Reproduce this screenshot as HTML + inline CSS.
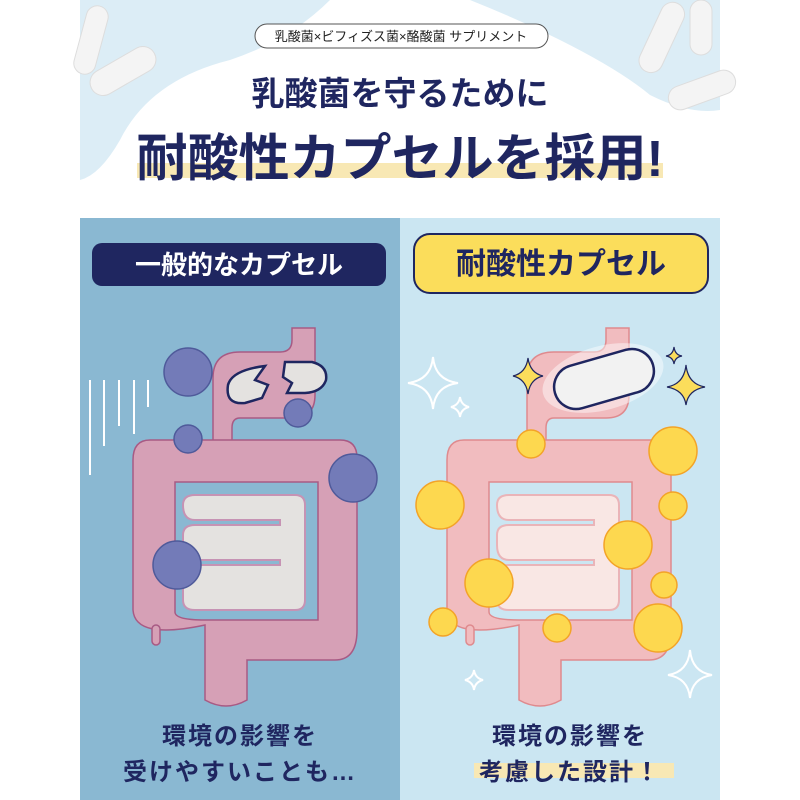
<!DOCTYPE html>
<html><head><meta charset="utf-8"><style>
body{margin:0;width:800px;height:800px;background:#fff;overflow:hidden}
svg{display:block}
text{font-family:"Liberation Sans","Noto Sans CJK JP",sans-serif}
</style></head><body>
<svg width="800" height="800" viewBox="0 0 800 800" xmlns="http://www.w3.org/2000/svg">
<rect x="80" y="0" width="640" height="210" fill="#fff"/>
<path d="M80,0 H330 Q290,40 230,60 Q150,80 120,140 Q100,175 80,180 Z" fill="#dcedf6"/>
<path d="M720,0 H470 Q520,20 560,40 Q620,70 650,95 Q690,115 720,110 Z" fill="#dcedf6"/>
<g fill="#f4f4f4" stroke="#ddd">
 <rect x="80" y="5" width="22" height="70" rx="11" transform="rotate(15 91 40)"/>
 <rect x="110" y="35" width="26" height="72" rx="13" transform="rotate(60 123 71)"/>
 <rect x="650" y="0" width="24" height="75" rx="12" transform="rotate(25 662 37)"/>
 <rect x="690" y="0" width="22" height="55" rx="11"/>
 <rect x="690" y="55" width="24" height="70" rx="12" transform="rotate(70 702 90)"/>
</g>
<rect x="255" y="24" width="293" height="24" rx="12" fill="#fff" stroke="#555" stroke-width="1"/>
<text x="401" y="41" font-size="13" text-anchor="middle" fill="#222">乳酸菌×ビフィズス菌×酪酸菌 サプリメント</text>
<text x="400" y="105" font-size="33" font-weight="700" text-anchor="middle" fill="#1f2660">乳酸菌を守るために</text>
<rect x="137" y="163" width="526" height="15" fill="#f8e8b4"/>
<text x="400" y="176" font-size="51" font-weight="700" text-anchor="middle" fill="#1f2660">耐酸性カプセルを採用!</text>

<rect x="80" y="218" width="320" height="582" fill="#8ab8d2"/>
<rect x="400" y="218" width="320" height="582" fill="#cbe6f2"/>

<rect x="92" y="243" width="294" height="43" rx="10" fill="#1f2660"/>
<text x="239" y="274" font-size="26" font-weight="700" text-anchor="middle" fill="#fff">一般的なカプセル</text>
<rect x="414" y="234" width="294" height="59" rx="16" fill="#fbdd5b" stroke="#1f2660" stroke-width="2"/>
<text x="561" y="274" font-size="30" font-weight="700" text-anchor="middle" fill="#1f2660">耐酸性カプセル</text>

<g fill="#d6a0b6" stroke="#a85a84" stroke-width="1.5">
 <path d="M292,328 H315 V395 Q315,418 292,418 H240 Q232,418 232,428 V445 H213 V378 Q213,352 240,352 H280 Q292,352 292,340 Z"/>
 <path fill-rule="evenodd" d="M150,440 H340 Q357,440 357,458 V630 Q357,660 335,660 H247 V700 Q226,712 205,700 V625 Q135,640 133,610 V460 Q133,440 150,440 Z M175,482 V612 Q175,620 205,620 H318 V482 Z"/>
 <rect x="152" y="625" width="8" height="20" rx="4"/>
</g>
<path fill="#e4e2e0" stroke="#c693b4" stroke-width="2" d="M195,495 H295 Q305,495 305,505 V600 Q305,610 295,610 H195 Q183,610 183,600 V575 Q183,565 195,565 H280 V560 H195 Q183,560 183,545 V535 Q183,525 195,525 H280 V520 H195 Q183,520 183,505 Q183,495 195,495 Z"/>
<g transform="translate(314,0)">
<g fill="#f1bcbf" stroke="#df8a8e" stroke-width="1.5">
 <path d="M292,328 H315 V395 Q315,418 292,418 H240 Q232,418 232,428 V445 H213 V378 Q213,352 240,352 H280 Q292,352 292,340 Z"/>
 <path fill-rule="evenodd" d="M150,440 H340 Q357,440 357,458 V630 Q357,660 335,660 H247 V700 Q226,712 205,700 V625 Q135,640 133,610 V460 Q133,440 150,440 Z M175,482 V612 Q175,620 205,620 H318 V482 Z"/>
 <rect x="152" y="625" width="8" height="20" rx="4"/>
</g>
<path fill="#f9e7e4" stroke="#eab4b8" stroke-width="2" d="M195,495 H295 Q305,495 305,505 V600 Q305,610 295,610 H195 Q183,610 183,600 V575 Q183,565 195,565 H280 V560 H195 Q183,560 183,545 V535 Q183,525 195,525 H280 V520 H195 Q183,520 183,505 Q183,495 195,495 Z"/>
</g>

<g stroke="#fff" stroke-width="2">
 <line x1="90" y1="380" x2="90" y2="475"/><line x1="104" y1="380" x2="104" y2="446"/>
 <line x1="119" y1="380" x2="119" y2="426"/><line x1="134" y1="380" x2="134" y2="434"/>
 <line x1="148" y1="380" x2="148" y2="407"/>
</g>
<path d="M265,366 L255,380 L268,385 L262,398 L245,403 Q225,405 228,385 Q232,370 265,366 Z" fill="#e4e2e0" stroke="#1f2660" stroke-width="2.5"/>
<path d="M285,362 H312 Q328,366 326,380 Q322,392 305,393 H287 L292,383 L283,377 Z" fill="#e4e2e0" stroke="#1f2660" stroke-width="2.5"/>
<g fill="#737bb8" stroke="#4f5a9a" stroke-width="1.5">
 <circle cx="188" cy="372" r="24"/><circle cx="298" cy="413" r="14"/><circle cx="188" cy="439" r="14"/>
 <circle cx="353" cy="478" r="24"/><circle cx="177" cy="565" r="24"/>
</g>

<ellipse cx="603" cy="378" rx="62" ry="32" fill="#fff" opacity="0.45" transform="rotate(-15 603 378)"/>
<rect x="553" y="357" width="102" height="44" rx="22" fill="#f2f2f2" stroke="#1f2660" stroke-width="2.5" transform="rotate(-16 604 379)"/>
<g fill="#fbdd5b" stroke="#1f2660" stroke-width="1.2">
 <path d="M528,358 Q530,373 543,376 Q530,379 528,394 Q526,379 513,376 Q526,373 528,358Z"/>
 <path d="M686,365 Q688,384 705,387 Q688,390 686,405 Q684,390 667,387 Q684,384 686,365Z"/>
 <path d="M674,347 Q675,355 682,356 Q675,357 674,364 Q673,357 666,356 Q673,355 674,347Z"/>
</g>
<g fill="none" stroke="#fff" stroke-width="2">
 <path d="M433,357 Q435,380 458,383 Q435,386 433,409 Q431,386 408,383 Q431,380 433,357Z"/>
 <path d="M460,397 Q461,405 469,407 Q461,409 460,417 Q459,409 451,407 Q459,405 460,397Z"/>
 <path d="M690,650 Q692,672 712,675 Q692,678 690,698 Q688,678 668,675 Q688,672 690,650Z"/>
 <path d="M474,670 Q475,678 483,680 Q475,682 474,690 Q473,682 465,680 Q473,678 474,670Z"/>
</g>
<g fill="#fdd84f" stroke="#f3a327" stroke-width="1.5">
 <circle cx="531" cy="444" r="14"/><circle cx="673" cy="451" r="24"/><circle cx="440" cy="505" r="24"/>
 <circle cx="673" cy="506" r="14"/><circle cx="628" cy="545" r="24"/><circle cx="489" cy="583" r="24"/>
 <circle cx="664" cy="585" r="13"/><circle cx="443" cy="622" r="14"/><circle cx="557" cy="628" r="14"/>
 <circle cx="658" cy="628" r="24"/>
</g>

<text x="240" y="744" font-size="24" font-weight="700" text-anchor="middle" fill="#1f2660" letter-spacing="2">環境の影響を</text>
<text x="240" y="780" font-size="24" font-weight="700" text-anchor="middle" fill="#1f2660" letter-spacing="2">受けやすいことも…</text>
<rect x="474" y="763" width="200" height="15" fill="#f8e8b4"/>
<text x="570" y="744" font-size="24" font-weight="700" text-anchor="middle" fill="#1f2660" letter-spacing="2">環境の影響を</text>
<text x="570" y="780" font-size="24" font-weight="700" text-anchor="middle" fill="#1f2660" letter-spacing="2">考慮した設計！</text>
</svg>
</body></html>
